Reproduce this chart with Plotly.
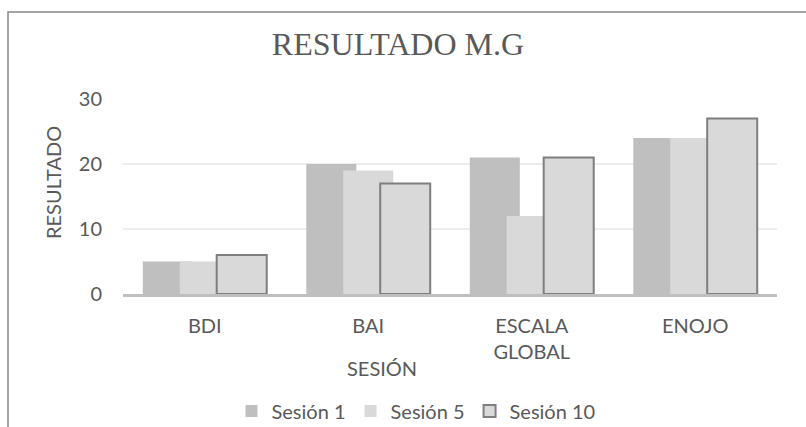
import plotly.graph_objects as go

categories = ["BDI", "BAI", "ESCALA<br>GLOBAL", "ENOJO"]
series_names = ["Sesión 1", "Sesión 5", "Sesión 10"]
sesion1 = [5, 20, 21, 24]
sesion5 = [5, 19, 12, 24]
sesion10 = [6, 17, 21, 27]
y_ticks = [0, 10, 20, 30]

W, H = 806, 427
L, R, T, B = 123, 29, 99, 133
pw, ph = W - L - R, H - T - B

def px_x(x):
    return (x - L) / pw

def px_y(y):
    return (H - B - y) / ph

bar_w = 0.306
step = 0.226
offsets = [-0.379, -0.379 + step, -0.379 + 2 * step]
fills = ["#bfbfbf", "#d9d9d9", "#d9d9d9"]
lines = [dict(width=0), dict(width=0), dict(width=2, color="#7f7f7f")]

fig = go.Figure()
for name, vals, off, fc, ln in zip(series_names, [sesion1, sesion5, sesion10], offsets, fills, lines):
    fig.add_trace(go.Bar(
        x=categories, y=vals, name=name,
        width=bar_w, offset=off,
        marker=dict(color=fc, line=ln),
    ))

font = "Lato"
fig.update_layout(
    width=W, height=H,
    margin=dict(l=L, r=R, t=T, b=B, autoexpand=False),
    barmode="overlay",
    plot_bgcolor="white", paper_bgcolor="white",
    font=dict(family=font, size=20, color="#595959"),
    showlegend=True,
    legend=dict(orientation="h", x=px_x(416), xanchor="center",
                y=px_y(411), yanchor="middle",
                font=dict(size=20, color="#595959"),
                itemwidth=30, traceorder="normal"),
    title=dict(text="RESULTADO M.G", x=398 / W, xanchor="center",
               y=1 - 44 / H, yanchor="middle",
               font=dict(family="Liberation Serif", size=32, color="#595959")),
    xaxis=dict(type="category", showgrid=False, showline=True, automargin=False,
               linecolor="#bfbfbf", linewidth=3, ticks="",
               ticklabelstandoff=12,
               tickfont=dict(size=20, color="#595959")),
    yaxis=dict(range=[0, 30], tickvals=y_ticks, showgrid=True, automargin=False,
               gridcolor="#ededed", gridwidth=1.5, zeroline=False,
               showline=False, ticks="", ticklabelstandoff=20,
               tickfont=dict(size=20, color="#595959")),
    shapes=[dict(type="rect", xref="paper", yref="paper",
                 x0=px_x(8), x1=px_x(812), y0=px_y(432), y1=px_y(12),
                 line=dict(color="#868686", width=1.5), layer="below")],
    annotations=[
        dict(text="SESIÓN", xref="paper", yref="paper", x=px_x(382), y=px_y(368),
             xanchor="center", yanchor="middle", showarrow=False,
             font=dict(size=20, color="#595959")),
        dict(text="RESULTADO", xref="paper", yref="paper", x=px_x(53), y=px_y(183),
             xanchor="center", yanchor="middle", showarrow=False, textangle=-90,
             font=dict(size=20, color="#595959")),
    ],
)

fig.write_html("out.html", config={"displayModeBar": False},
               post_script="document.body.style.margin='0';document.body.style.overflow='hidden';")
